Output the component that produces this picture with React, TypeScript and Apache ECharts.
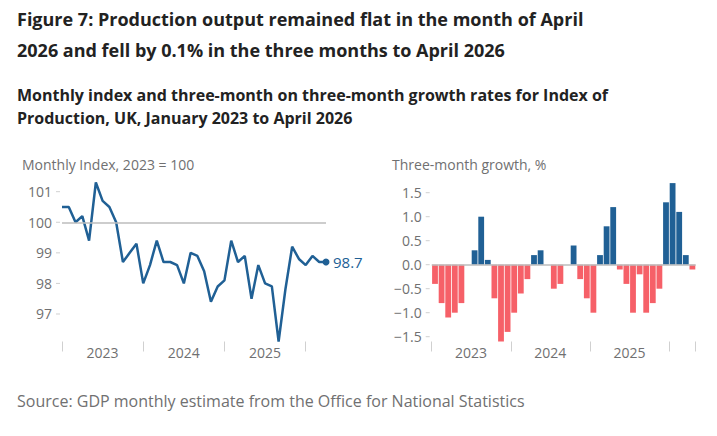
import React, { useRef, useEffect } from 'react'
import * as echarts from 'echarts'

// Jan 2023 .. Apr 2026
const months = [
  'Jan 2023', 'Feb 2023', 'Mar 2023', 'Apr 2023', 'May 2023', 'Jun 2023',
  'Jul 2023', 'Aug 2023', 'Sep 2023', 'Oct 2023', 'Nov 2023', 'Dec 2023',
  'Jan 2024', 'Feb 2024', 'Mar 2024', 'Apr 2024', 'May 2024', 'Jun 2024',
  'Jul 2024', 'Aug 2024', 'Sep 2024', 'Oct 2024', 'Nov 2024', 'Dec 2024',
  'Jan 2025', 'Feb 2025', 'Mar 2025', 'Apr 2025', 'May 2025', 'Jun 2025',
  'Jul 2025', 'Aug 2025', 'Sep 2025', 'Oct 2025', 'Nov 2025', 'Dec 2025',
  'Jan 2026', 'Feb 2026', 'Mar 2026', 'Apr 2026',
]

const monthlyIndex = [
  100.5, 100.5, 100.0, 100.2, 99.4, 101.3, 100.7, 100.5, 100.0, 98.7, 99.0, 99.3,
  98.0, 98.6, 99.4, 98.7, 98.7, 98.6, 98.0, 99.0, 98.9, 98.4, 97.4, 97.9,
  98.1, 99.4, 98.7, 98.9, 97.5, 98.6, 98.0, 97.9, 96.1, 97.8, 99.2, 98.8,
  98.6, 98.9, 98.7, 98.7,
]

const threeMonthGrowth = [
  -0.4, -0.8, -1.1, -1.0, -0.8, 0.0, 0.3, 1.0, 0.1, -0.7, -1.6, -1.4,
  -1.0, -0.6, -0.3, 0.2, 0.3, 0.0, -0.5, -0.4, 0.0, 0.4, -0.3, -0.7,
  -1.0, 0.2, 0.8, 1.2, -0.1, -0.4, -1.0, -0.2, -1.0, -0.8, -0.5, 1.3,
  1.7, 1.1, 0.2, -0.1,
]

const yearTickIndices = [0, 12, 24, 36]
const yearLabelIndices = [6, 18, 30]

const BLUE = '#206095'
const CORAL = '#f66068'
const GREY_TEXT = '#707071'
const GREY_TICK = '#d0d0d0'

const fontFamily = '"Open Sans", "Noto Sans", sans-serif'

const tickRich = {
  v: { color: GREY_TEXT, fontSize: 14, fontFamily },
  g: { width: 4, height: 1 },
  t: { width: 4, height: 1, backgroundColor: GREY_TICK },
}

const App: React.FC = () => {
  const chartRef = useRef<HTMLDivElement>(null)

  useEffect(() => {
    if (!chartRef.current) return
    const chart = echarts.init(chartRef.current, null, { renderer: 'svg' })

    const yearTick = (i: number) => yearTickIndices.includes(i)
    const yearLabel = (i: number) => yearLabelIndices.includes(i)

    const option = {
      animation: false,
      textStyle: { fontFamily },
      graphic: [
        {
          type: 'text', left: 17, top: 10,
          style: { text: 'Figure 7: Production output remained flat in the month of April', fontSize: 18, fontWeight: 'bold', fill: '#222222', fontFamily },
        },
        {
          type: 'text', left: 17, top: 41,
          style: { text: '2026 and fell by 0.1% in the three months to April 2026', fontSize: 18, fontWeight: 'bold', fill: '#222222', fontFamily },
        },
        {
          type: 'text', left: 17, top: 87,
          style: { text: 'Monthly index and three-month on three-month growth rates for Index of', fontSize: 16, fontWeight: 'bold', fill: '#222222', fontFamily },
        },
        {
          type: 'text', left: 17, top: 110,
          style: { text: 'Production, UK, January 2023 to April 2026', fontSize: 16, fontWeight: 'bold', fill: '#222222', fontFamily },
        },
        {
          type: 'text', left: 22, top: 157,
          style: { text: 'Monthly Index, 2023 = 100', fontSize: 14, fill: GREY_TEXT, fontFamily },
        },
        {
          type: 'text', left: 392, top: 157,
          style: { text: 'Three-month growth, %', fontSize: 14, fill: GREY_TEXT, fontFamily },
        },
        {
          type: 'text', left: 17, top: 393,
          style: { text: 'Source: GDP monthly estimate from the Office for National Statistics', fontSize: 16, fill: GREY_TEXT, fontFamily },
        },
      ],
      grid: [
        { left: 62, right: 391, top: 176.4, bottom: 94.5 },
        { left: 431.7, right: 21.3, top: 178.3, bottom: 94.5 },
      ],
      xAxis: [
        {
          gridIndex: 0,
          type: 'category',
          data: months,
          boundaryGap: false,
          axisLine: { show: false },
          axisTick: { show: true, interval: (i: number) => yearTick(i), length: 10, lineStyle: { color: GREY_TICK } },
          axisLabel: {
            interval: (i: number) => yearLabel(i),
            formatter: (v: string) => v.slice(4),
            color: GREY_TEXT, fontSize: 14, margin: 4, fontFamily,
          },
        },
        {
          gridIndex: 1,
          type: 'category',
          data: months,
          boundaryGap: true,
          axisLine: { show: false, onZero: false },
          axisTick: { show: true, interval: (i: number) => yearTick(i), length: 10, lineStyle: { color: GREY_TICK } },
          axisLabel: {
            interval: (i: number) => yearLabel(i),
            formatter: (v: string) => v.slice(4),
            color: GREY_TEXT, fontSize: 14, margin: 4, fontFamily,
            padding: [0, 7, 0, 0],
          },
        },
      ],
      yAxis: [
        {
          gridIndex: 0,
          type: 'value',
          min: 96.1,
          max: 101.5,
          interval: 0.1,
          splitLine: { show: false },
          axisLine: { show: false },
          axisTick: { show: false },
          axisLabel: {
            margin: 2,
            formatter: (v: number) => {
              const r = Math.round(v)
              if (Math.abs(v - r) > 1e-6 || r < 97 || r > 101) return ''
              return `{v|${r}}{g|}{t|}`
            },
            rich: tickRich,
          },
        },
        {
          gridIndex: 1,
          type: 'value',
          min: -1.6,
          max: 1.8,
          interval: 0.1,
          splitLine: { show: false },
          axisLine: { show: false },
          axisTick: { show: false },
          axisLabel: {
            margin: 2,
            formatter: (v: number) => {
              const h = Math.round(v * 2)
              if (Math.abs(v * 2 - h) > 1e-6 || h < -3 || h > 3) return ''
              return `{v|${(h / 2).toFixed(1).replace('-', '\u2212')}}{g|}{t|}`
            },
            rich: tickRich,
          },
        },
      ],
      series: [
        {
          type: 'line',
          xAxisIndex: 0,
          yAxisIndex: 0,
          data: monthlyIndex.map((v, i) =>
            i === monthlyIndex.length - 1
              ? { value: v, symbol: 'circle', symbolSize: 7 }
              : { value: v, symbol: 'none' }
          ),
          showSymbol: true,
          showAllSymbol: true,
          lineStyle: { color: BLUE, width: 2.5 },
          itemStyle: { color: BLUE },
          endLabel: {
            show: true,
            formatter: (p: any) => p.value.toFixed(1),
            color: BLUE,
            fontSize: 15,
            distance: 7,
            fontFamily,
          },
          markLine: {
            silent: true,
            symbol: 'none',
            label: { show: false },
            lineStyle: { color: '#bcbcbc', width: 1.5, type: 'solid' },
            data: [{ yAxis: 100 }],
          },
          z: 3,
        },
        {
          type: 'bar',
          xAxisIndex: 1,
          yAxisIndex: 1,
          data: threeMonthGrowth.map((v) => ({
            value: v,
            itemStyle: { color: v >= 0 ? BLUE : CORAL },
          })),
          barCategoryGap: '12%',
          markLine: {
            silent: true,
            symbol: 'none',
            label: { show: false },
            lineStyle: { color: '#bcbcbc', width: 1.5, type: 'solid' },
            data: [{ yAxis: 0 }],
          },
        },
      ],
    }

    chart.setOption(option)

    return () => {
      chart.dispose()
    }
  }, [])

  return (
    <div
      ref={chartRef}
      style={{ position: 'fixed', left: 0, top: 0, width: '717px', height: '436px', background: '#fff' }}
    />
  )
}

export default App
